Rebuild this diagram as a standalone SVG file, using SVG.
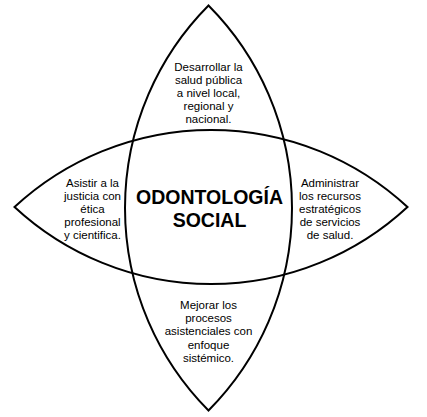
<svg xmlns="http://www.w3.org/2000/svg" width="427" height="417" viewBox="0 0 427 417">
<style>
.lens{fill:none;stroke:#000;stroke-width:2}
.t{font-family:"Liberation Sans",Arial,sans-serif;font-size:11.5px;fill:#000;text-anchor:middle}
.m{font-family:"Liberation Sans",Arial,sans-serif;font-size:19.5px;font-weight:bold;fill:#000;text-anchor:middle}
</style>
<rect width="427" height="417" fill="#fff"/>
<g id="connectors">
<path id="vertical-lens" class="lens" d="M208.5,5.5 A287.3,287.3 0 0 1 208.5,410.5 A287.3,287.3 0 0 1 208.5,5.5 Z"/>
<path id="horizontal-lens" class="lens" d="M14.5,207 A289,289 0 0 1 407.5,207 A289,289 0 0 1 14.5,207 Z"/>
</g>
<g id="node-top">
<text class="t" x="208.5" y="71">Desarrollar la</text>
<text class="t" x="208.5" y="84">salud pública</text>
<text class="t" x="208.5" y="97">a nivel local,</text>
<text class="t" x="208.5" y="110">regional y</text>
<text class="t" x="208.5" y="123">nacional.</text>
</g>
<g id="node-left">
<text class="t" x="92.5" y="186.5">Asistir a la</text>
<text class="t" x="92.5" y="199.5">justicia con</text>
<text class="t" x="92.5" y="212.5">ética</text>
<text class="t" x="92.5" y="225.5">profesional</text>
<text class="t" x="92.5" y="239">y cientifica.</text>
</g>
<g id="node-right">
<text class="t" x="330" y="186.5">Administrar</text>
<text class="t" x="330" y="199.5">los recursos</text>
<text class="t" x="330" y="212.5">estratégicos</text>
<text class="t" x="330" y="225.5">de servicios</text>
<text class="t" x="330" y="239">de salud.</text>
</g>
<g id="node-bottom">
<text class="t" x="208.5" y="308.5">Mejorar los</text>
<text class="t" x="208.5" y="321.5">procesos</text>
<text class="t" x="208.5" y="335">asistenciales con</text>
<text class="t" x="208.5" y="348.5">enfoque</text>
<text class="t" x="208.5" y="362">sistémico.</text>
</g>
<g id="node-center">
<text class="m" x="209.5" y="203.5">ODONTOLOGÍA</text>
<text class="m" x="209.5" y="226.5">SOCIAL</text>
</g>
</svg>
